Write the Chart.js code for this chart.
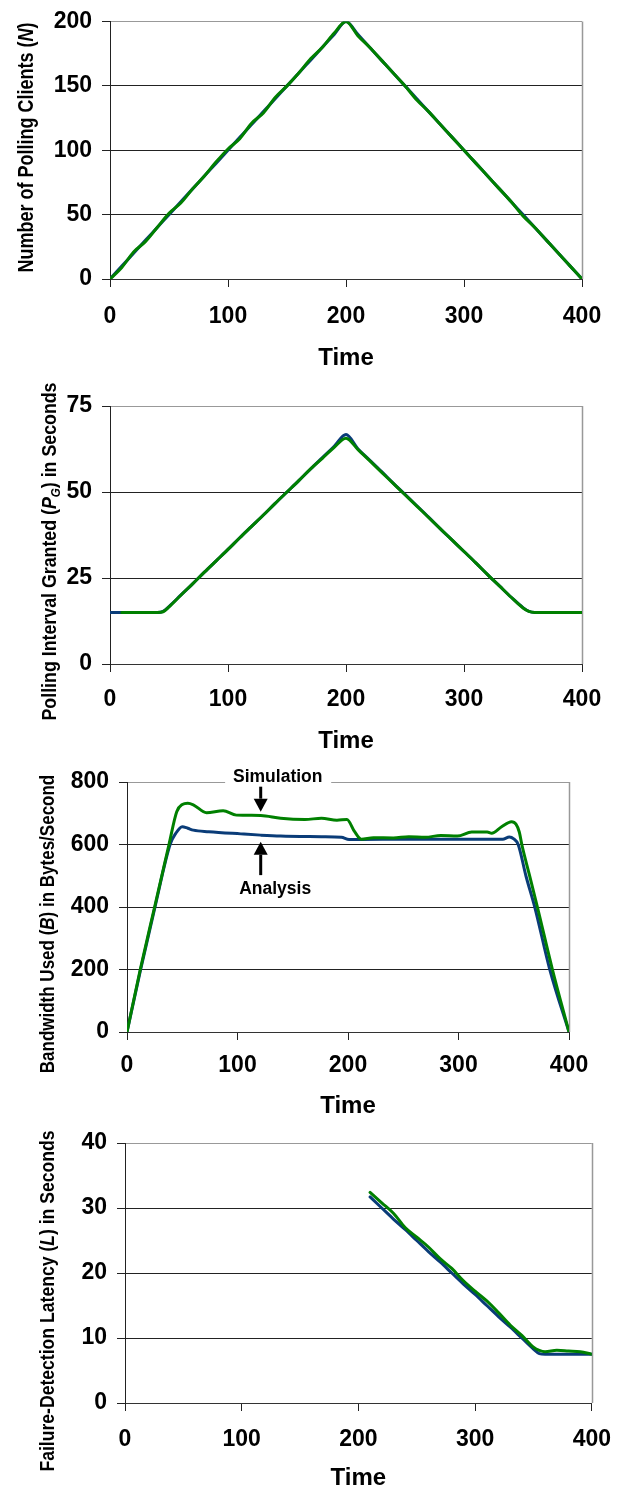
<!DOCTYPE html>
<html><head><meta charset="utf-8">
<script src="https://cdn.jsdelivr.net/npm/chart.js@4/dist/chart.umd.min.js"></script>
<style>
html,body{margin:0;padding:0;background:#fff;}
#wrap{position:relative;width:628px;height:1490px;overflow:hidden;background:#fff;}
canvas{position:absolute;left:0;}
</style></head><body><div id="wrap">
<canvas id="c1" width="628" height="375" style="top:0px"></canvas>
<canvas id="c2" width="628" height="385" style="top:375px"></canvas>
<canvas id="c3" width="628" height="358" style="top:760px"></canvas>
<canvas id="c4" width="628" height="372" style="top:1118px"></canvas>
</div>
<script>
// ---------- data ----------
const timeTicks = [0, 100, 200, 300, 400];

// Chart 1: Number of polling clients
const nTime = [0,10,20,30,40,50,60,70,80,90,100,110,120,130,140,150,160,170,180,190,200,210,220,230,240,250,260,270,280,290,300,310,320,330,340,350,360,370,380,390,400];
const nAnalysis = [0,10,20,30,40,50,60,70,80,90,100,110,120,130,140,150,160,170,180,190,200,190,180,170,160,150,140,130,120,110,100,90,80,70,60,50,40,30,20,10,0];
const nSimulation = [0,9,21,29,40,51,59,70,80,91,101,109,121,129,141,150,160,171,180,191,200,189,180,170,160,150,139,130,120,110,100,90,80,70,60,49,40,30,20,10,0];
const nTicks = [0, 50, 100, 150, 200];

// Chart 2: Polling interval granted
const pgTime = [0,10,20,30,40,45,50,60,70,80,90,100,110,120,130,140,150,160,170,180,190,200,210,220,230,240,250,260,270,280,290,300,310,320,330,340,350,355,360,370,380,390,400];
const pgAnalysis = [15,15,15,15,15,15.3,16.7,20,23.3,26.7,30,33.3,36.7,40,43.3,46.7,50,53.3,56.7,60,63.3,66.7,62.6,59.3,56,52.6,49.3,46,42.7,39.3,36,32.7,29.4,26,22.7,19.4,16.4,15.3,15,15,15,15,15];
const pgSimTime = [10,20,30,40,45,50,60,70,80,90,100,110,120,130,140,150,160,170,180,190,200,210,220,230,240,250,260,270,280,290,300,310,320,330,340,350,355,360,370,380,390,400];
const pgSimulation = [15,15,15,15,15.2,16.6,20,23.3,26.7,30,33.3,36.7,40,43.3,46.7,50,53.3,56.7,59.8,63,65.6,62.4,59.1,55.8,52.5,49.2,45.9,42.6,39.3,36,32.7,29.4,26,22.7,19.4,16.3,15.3,15,15,15,15,15];
const pgTicks = [0, 25, 50, 75];

// Chart 3: Bandwidth used
const bwSimTime = [0,12,25,38,45,50,55,60,72,87,99,121,139,161,176,190,199,206,212,223,241,255,270,284,299,312,326,330,339,348,352,355,357.3,364,371.4,385,400];
const bwSimulation = [0,200,400,600,705,728,732,727,702,708,694,693,684,680,684,678,680,641,617,622,621,625,623,629,627,640,640,636,657,673,665,640,600,505,400,200,0];
const bwAnaTime = [0,12,25,39,44,50,55,60,74,103,121,139,176,194,201,212,250,300,340,346,350,354,361,369,382.6,400];
const bwAnalysis = [0,195,395,600,635,657,652,646,641,634,630,627,625,623,616,616,617,617,617,624,618,600,500,400,200,0];
const bwTicks = [0, 200, 400, 600, 800];

// Chart 4: Failure-detection latency
const lTime = [210,220,230,240,250,260,270,280,290,300,310,320,330,340,350,355,360,370,380,390,400];
const lAnalysis = [31.7,30,28.3,26.7,25,23.3,21.7,20,18.3,16.7,15,13.3,11.7,10,8.3,7.6,7.5,7.5,7.5,7.5,7.5];
const lSimulation = [32.4,30.8,29.2,27,25.5,24,22.2,20.7,18.8,17.2,15.7,13.9,12,10.4,8.6,8.1,7.9,8.1,8.0,7.9,7.5];
const lTicks = [0, 10, 20, 30, 40];

// ---------- styling ----------
const FONT = "'Liberation Sans', Arial, Helvetica, sans-serif";
const GREEN = '#008000';
const BLUE = '#0a3c78';

function fontStr(seg, size) {
  return (seg.italic ? 'italic ' : '') + 'bold ' + (seg.sub ? size * 0.65 : size) + 'px ' + FONT;
}
function drawYTitle(ctx, cx, cy, size, segs, stretch) {
  ctx.save();
  ctx.translate(cx, cy);
  ctx.rotate(-Math.PI / 2);
  ctx.scale(1, stretch);
  const widths = segs.map(s => { ctx.font = fontStr(s, size); return ctx.measureText(s.t).width; });
  const total = widths.reduce((a, b) => a + b, 0);
  let x = -total / 2;
  const base = size * 0.358;
  ctx.fillStyle = '#000';
  ctx.textAlign = 'left';
  ctx.textBaseline = 'alphabetic';
  segs.forEach((s, i) => {
    ctx.font = fontStr(s, size);
    ctx.fillText(s.t, x, base + (s.sub ? size * 0.22 : 0));
    x += widths[i];
  });
  ctx.restore();
}
function arrow(ctx, x, y0, y1) {
  const dir = Math.sign(y1 - y0), head = 13, hw = 7;
  ctx.save();
  ctx.strokeStyle = '#000'; ctx.fillStyle = '#000'; ctx.lineWidth = 3;
  ctx.beginPath(); ctx.moveTo(x, y0); ctx.lineTo(x, y1 - dir * head); ctx.stroke();
  ctx.beginPath(); ctx.moveTo(x, y1); ctx.lineTo(x - hw, y1 - dir * head); ctx.lineTo(x + hw, y1 - dir * head); ctx.closePath(); ctx.fill();
  ctx.restore();
}

// annotation positions (in data units) for chart 3
const annoArrowTime = 121;
const simArrowValues = [785, 705];
const anaArrowValues = [502, 609];
const simLabel = { text: 'Simulation', t: 136.4, v: 819, boxFrom: 88.8, boxTo: 184.8 };
const anaLabel = { text: 'Analysis', t: 134.1, v: 461 };

function annotateBandwidth(chart) {
  const ctx = chart.ctx, xs = chart.scales.x, ys = chart.scales.y;
  ctx.save();
  const bx0 = xs.getPixelForValue(simLabel.boxFrom), bx1 = xs.getPixelForValue(simLabel.boxTo);
  const topY = chart.chartArea.top;
  ctx.fillStyle = '#fff';
  ctx.fillRect(bx0, topY - 4, bx1 - bx0, 8);
  ctx.fillStyle = '#000';
  ctx.font = 'bold 17.5px ' + FONT;
  ctx.textAlign = 'center'; ctx.textBaseline = 'alphabetic';
  ctx.fillText(simLabel.text, xs.getPixelForValue(simLabel.t), ys.getPixelForValue(simLabel.v) + 17.5 * 0.358);
  ctx.fillText(anaLabel.text, xs.getPixelForValue(anaLabel.t), ys.getPixelForValue(anaLabel.v) + 17.5 * 0.358);
  ctx.restore();
  const ax = xs.getPixelForValue(annoArrowTime);
  arrow(ctx, ax, ys.getPixelForValue(simArrowValues[0]), ys.getPixelForValue(simArrowValues[1]));
  arrow(ctx, ax, ys.getPixelForValue(anaArrowValues[0]), ys.getPixelForValue(anaArrowValues[1]));
}

function makeChart(o) {
  // simulation (green) is drawn on top of analysis (blue)
  const datasets = o.series.map(s => ({
    data: s.t.map((t, i) => ({ x: t, y: s.v[i] })),
    borderColor: s.color, backgroundColor: s.color, borderWidth: 3, order: s.order,
    pointRadius: 0, fill: false, cubicInterpolationMode: 'monotone', tension: 0.4,
    borderCapStyle: 'round', borderJoinStyle: 'round'
  }));
  const frame = {
    id: 'frame_' + o.id,
    beforeDatasetsDraw(chart) {
      const { ctx, chartArea: a } = chart;
      ctx.save();
      ctx.strokeStyle = '#999'; ctx.lineWidth = 1.5;
      const x = Math.round(a.right) + 0.5;
      ctx.beginPath(); ctx.moveTo(x, a.top); ctx.lineTo(x, a.bottom); ctx.stroke();
      ctx.restore();
    },
    afterDraw(chart) {
      drawYTitle(chart.ctx, o.titleX, o.titleY - o.top, o.titleSize, o.titleSegs, 1.18);
      if (o.annotate) o.annotate(chart);
    }
  };
  return new Chart(document.getElementById(o.id), {
    type: 'line',
    data: { datasets },
    options: {
      responsive: false, animation: false, devicePixelRatio: 1,
      layout: { padding: { top: o.padTop, right: o.padRight, left: 0, bottom: 0 } },
      plugins: { legend: { display: false }, tooltip: { enabled: false } },
      scales: {
        x: {
          type: 'linear', min: 0, max: 400,
          afterBuildTicks: s => { s.ticks = timeTicks.map(v => ({ value: v })); },
          afterFit: s => { s.height = o.xHeight; },
          grid: { drawOnChartArea: false, drawTicks: true, tickLength: 8, color: '#222', tickColor: '#222' },
          border: { display: true, color: '#333', width: 1 },
          ticks: { font: { family: FONT, size: 23, weight: 'bold', lineHeight: 1 }, color: '#000', padding: o.xPad, maxRotation: 0, autoSkip: false },
          title: { display: true, text: 'Time', color: '#000', font: { family: FONT, size: 24, weight: 'bold', lineHeight: 1 }, padding: { top: 0, bottom: o.titlePad } }
        },
        y: {
          min: 0, max: o.yMax,
          afterBuildTicks: s => { s.ticks = o.yTicks.map(v => ({ value: v })); },
          afterFit: s => { s.width = o.left; },
          grid: { color: c => (c.tick && c.tick.value === o.yMax) ? '#999' : '#222', tickColor: '#222', tickLength: 8, lineWidth: 1 },
          border: { display: true, color: '#222', width: 1 },
          ticks: { font: { family: FONT, size: 23, weight: 'bold', lineHeight: 1 }, color: '#000', padding: 10 }
        }
      }
    },
    plugins: [frame]
  });
}

makeChart({
  id: 'c1', top: 0, padTop: 14, padRight: 628 - 582, left: 110, xHeight: 375 - 279, xPad: 18.5, titlePad: 4.5,
  yMax: 200, yTicks: nTicks,
  series: [{ t: nTime, v: nAnalysis, color: BLUE, order: 2 }, { t: nTime, v: nSimulation, color: GREEN, order: 1 }],
  titleX: 25, titleY: 147.5, titleSize: 18,
  titleSegs: [{ t: 'Number of Polling Clients (' }, { t: 'N', italic: true }, { t: ')' }]
});
makeChart({
  id: 'c2', top: 375, padTop: 406 - 375, padRight: 628 - 582, left: 110, xHeight: 760 - 664, xPad: 16.5, titlePad: 7,
  yMax: 75, yTicks: pgTicks,
  series: [{ t: pgTime, v: pgAnalysis, color: BLUE, order: 2 }, { t: pgSimTime, v: pgSimulation, color: GREEN, order: 1 }],
  titleX: 48, titleY: 551.5, titleSize: 17.8,
  titleSegs: [{ t: 'Polling Interval Granted (' }, { t: 'P', italic: true }, { t: 'G', italic: true, sub: true }, { t: ') in Seconds' }]
});
makeChart({
  id: 'c3', top: 760, padTop: 782 - 760, padRight: 628 - 569, left: 127, xHeight: 1118 - 1032, xPad: 14.5, titlePad: 0,
  yMax: 800, yTicks: bwTicks,
  series: [{ t: bwAnaTime, v: bwAnalysis, color: BLUE, order: 2 }, { t: bwSimTime, v: bwSimulation, color: GREEN, order: 1 }],
  titleX: 47, titleY: 924, titleSize: 17,
  titleSegs: [{ t: 'Bandwidth Used (' }, { t: 'B', italic: true }, { t: ') in Bytes/Second' }],
  annotate: annotateBandwidth
});
makeChart({
  id: 'c4', top: 1118, padTop: 1143 - 1118, padRight: 628 - 599, left: 125, xHeight: 1490 - 1403, xPad: 17, titlePad: 0,
  yMax: 40, yTicks: lTicks,
  series: [{ t: lTime, v: lAnalysis, color: BLUE, order: 2 }, { t: lTime, v: lSimulation, color: GREEN, order: 1 }],
  titleX: 47, titleY: 1301, titleSize: 17.6,
  titleSegs: [{ t: 'Failure-Detection Latency (' }, { t: 'L', italic: true }, { t: ') in Seconds' }]
});
</script>
</body></html>
